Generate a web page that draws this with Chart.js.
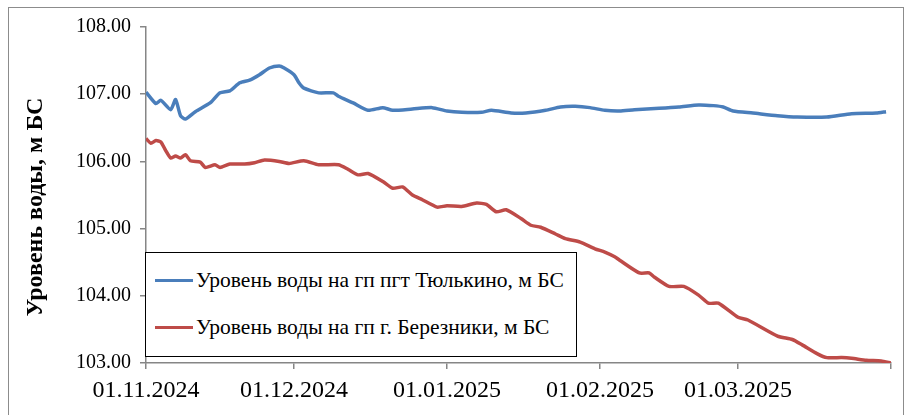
<!DOCTYPE html>
<html lang="ru">
<head>
<meta charset="utf-8">
<script src="https://cdn.jsdelivr.net/npm/chart.js@4/dist/chart.umd.min.js"></script>
<style>
  body { margin: 0; background: #fff; }
  #wrap { position: relative; width: 906px; height: 415px; overflow: hidden; }
  #frame { position: absolute; left: 8px; top: 7px; width: 896px; height: 420px; border: 1px solid #8c8c8c; box-sizing: border-box; }
  #legend { position: absolute; left: 145px; top: 252px; width: 432px; height: 105px; border: 1.5px solid #000; box-sizing: border-box; background: #fff;
    font-family: "Liberation Serif", "Times New Roman", serif; font-size: 21.5px; color: #000; }
  .item { position: absolute; left: 9px; display: flex; align-items: center; white-space: nowrap; }
  .swatch { width: 38px; height: 3.5px; margin-right: 3px; }
</style>
</head>
<body>
<div id="wrap">
  <div id="frame"></div>
  <canvas id="chart" width="906" height="415"></canvas>
  <div id="legend"></div>
</div>
<script>
// Подписи оси X (начало месяца) и серии
const monthStarts = ["01.11.2024", "01.12.2024", "01.01.2025", "01.02.2025", "01.03.2025", "01.04.2025"];
const monthLabels = ["01.11.2024", "01.12.2024", "01.01.2025", "01.02.2025", "01.03.2025", ""];

const blueName = "Уровень воды на гп пгт Тюлькино, м БС";
const blueDates = ["01.11.2024", "03.11.2024", "04.11.2024", "06.11.2024", "07.11.2024", "08.11.2024", "09.11.2024", "11.11.2024",
  "14.11.2024", "16.11.2024", "18.11.2024", "20.11.2024", "22.11.2024", "24.11.2024", "26.11.2024", "28.11.2024", "29.11.2024",
  "01.12.2024", "02.12.2024", "03.12.2024", "06.12.2024", "09.12.2024", "10.12.2024", "13.12.2024", "16.12.2024", "19.12.2024",
  "21.12.2024", "25.12.2024", "29.12.2024", "01.01.2025", "04.01.2025", "08.01.2025", "10.01.2025", "14.01.2025", "17.01.2025",
  "21.01.2025", "24.01.2025", "27.01.2025", "30.01.2025", "02.02.2025", "05.02.2025", "08.02.2025", "13.02.2025", "17.02.2025",
  "21.02.2025", "24.02.2025", "26.02.2025", "28.02.2025", "04.03.2025", "09.03.2025", "13.03.2025", "19.03.2025", "24.03.2025",
  "29.03.2025", "31.03.2025"];
const blueValues = [107.03, 106.86, 106.91, 106.77, 106.92, 106.68, 106.63, 106.74,
  106.87, 107.02, 107.05, 107.17, 107.21, 107.29, 107.39, 107.42, 107.39,
  107.29, 107.17, 107.09, 107.02, 107.02, 106.97, 106.87, 106.76, 106.80,
  106.76, 106.78, 106.80, 106.75, 106.73, 106.73, 106.76, 106.72, 106.72,
  106.76, 106.81, 106.82, 106.80, 106.76, 106.75, 106.77, 106.79, 106.81,
  106.84, 106.83, 106.81, 106.75, 106.72, 106.68, 106.66, 106.66, 106.71,
  106.72, 106.74];

const redName = "Уровень воды на гп г. Березники, м БС";
const redDates = ["01.11.2024", "02.11.2024", "03.11.2024", "04.11.2024", "05.11.2024", "06.11.2024", "07.11.2024", "08.11.2024",
  "09.11.2024", "10.11.2024", "12.11.2024", "13.11.2024", "15.11.2024", "16.11.2024", "18.11.2024", "21.11.2024", "23.11.2024",
  "25.11.2024", "28.11.2024", "30.11.2024", "03.12.2024", "06.12.2024", "10.12.2024", "12.12.2024", "14.12.2024", "16.12.2024",
  "19.12.2024", "21.12.2024", "23.12.2024", "25.12.2024", "27.12.2024", "30.12.2024", "01.01.2025", "04.01.2025", "07.01.2025",
  "09.01.2025", "11.01.2025", "13.01.2025", "16.01.2025", "18.01.2025", "20.01.2025", "23.01.2025", "25.01.2025", "28.01.2025",
  "31.01.2025", "02.02.2025", "04.02.2025", "05.02.2025", "09.02.2025", "11.02.2025", "12.02.2025", "15.02.2025", "18.02.2025",
  "21.02.2025", "23.02.2025", "25.02.2025", "01.03.2025", "03.03.2025", "09.03.2025", "12.03.2025", "14.03.2025", "17.03.2025",
  "19.03.2025", "22.03.2025", "24.03.2025", "27.03.2025", "30.03.2025", "01.04.2025"];
const redValues = [106.34, 106.27, 106.31, 106.29, 106.16, 106.05, 106.08, 106.05,
  106.10, 106.01, 105.99, 105.91, 105.95, 105.91, 105.96, 105.96, 105.98,
  106.02, 106.00, 105.97, 106.01, 105.95, 105.95, 105.88, 105.80, 105.82,
  105.70, 105.60, 105.62, 105.50, 105.43, 105.32, 105.34, 105.33, 105.38,
  105.36, 105.25, 105.28, 105.15, 105.05, 105.02, 104.92, 104.85, 104.80,
  104.70, 104.65, 104.58, 104.53, 104.34, 104.34, 104.28, 104.14, 104.14,
  104.01, 103.89, 103.89, 103.68, 103.64, 103.40, 103.35, 103.27, 103.14,
  103.08, 103.08, 103.07, 103.04, 103.03, 103.00];

const yTitle = "Уровень воды, м БС";
const blueColor = "#4a7ebb";
const redColor = "#be4b48";
const axisColor = "#868686";
const serif = "'Liberation Serif', 'Times New Roman', serif";

// дата "дд.мм.гггг" -> номер дня от 01.11.2024
function dayIndex(s) {
  const [d, m, y] = s.split(".").map(Number);
  return (Date.UTC(y, m - 1, d) - Date.UTC(2024, 10, 1)) / 86400000;
}

function toPoints(dates, values) {
  return dates.map((s, i) => ({ x: dayIndex(s), y: values[i] }));
}

const tickDays = monthStarts.map(dayIndex);

// подпись оси Y, повернутая
const yTitlePlugin = {
  id: "yTitle",
  afterDraw(chart) {
    const ctx = chart.ctx;
    ctx.save();
    ctx.translate(36, 207);
    ctx.rotate(-Math.PI / 2);
    ctx.font = "bold 24px " + serif;
    ctx.fillStyle = "#000";
    ctx.textAlign = "center";
    ctx.textBaseline = "middle";
    ctx.fillText(yTitle, 0, 0);
    ctx.restore();
  }
};

new Chart(document.getElementById("chart"), {
  type: "scatter",
  data: {
    datasets: [
      { label: blueName, data: toPoints(blueDates, blueValues), showLine: true, borderColor: blueColor, borderWidth: 3.5,
        pointRadius: 0, tension: 0.2 },
      { label: redName, data: toPoints(redDates, redValues), showLine: true, borderColor: redColor, borderWidth: 3.5,
        pointRadius: 0, tension: 0.2 }
    ]
  },
  options: {
    responsive: false,
    animation: false,
    devicePixelRatio: 1,
    layout: { padding: { top: 27, right: 15, bottom: 0, left: 0 } },
    plugins: { legend: { display: false }, tooltip: { enabled: false } },
    scales: {
      x: {
        type: "linear",
        min: tickDays[0],
        max: tickDays[tickDays.length - 1],
        afterBuildTicks: scale => { scale.ticks = tickDays.map(v => ({ value: v })); },
        afterFit: scale => { scale.height = 52; },
        grid: { drawOnChartArea: false, drawTicks: true, tickLength: 6, color: axisColor, lineWidth: 1.5 },
        border: { color: axisColor, width: 1.5 },
        ticks: {
          autoSkip: false, maxRotation: 0, padding: 7, color: "#000",
          font: { family: serif, size: 24 },
          callback: (v, i) => monthLabels[i]
        }
      },
      y: {
        min: 103,
        max: 108,
        afterFit: scale => { scale.width = 146; },
        grid: { drawOnChartArea: false, drawTicks: true, tickLength: 6, color: axisColor, lineWidth: 1.5 },
        border: { color: axisColor, width: 1.5 },
        ticks: {
          stepSize: 1, padding: 9, color: "#000",
          font: { family: serif, size: 20 },
          callback: v => v.toFixed(2)
        }
      }
    }
  },
  plugins: [yTitlePlugin]
});

// легенда в рамке
const legend = document.getElementById("legend");
[[blueName, blueColor, 28], [redName, redColor, 75]].forEach(([name, color, top]) => {
  const item = document.createElement("div");
  item.className = "item";
  item.style.top = (top - 13) + "px";
  item.innerHTML = `<span class="swatch" style="background:${color}"></span><span>${name}</span>`;
  legend.appendChild(item);
});
</script>
</body>
</html>
